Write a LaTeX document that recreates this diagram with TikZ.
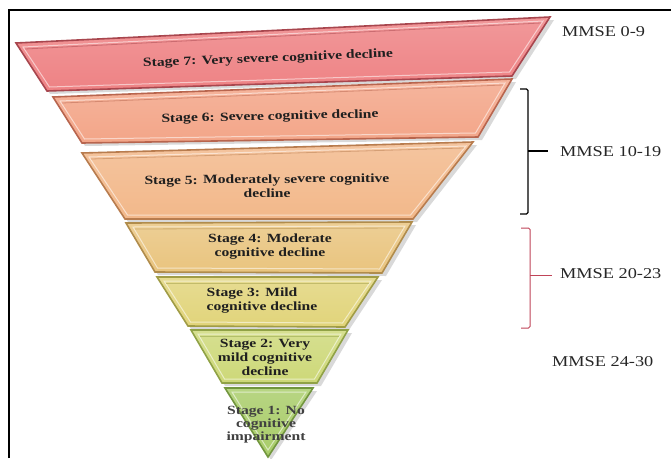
\documentclass[tikz,border=0pt]{standalone}
\usepackage{fontspec}
\setmainfont{Liberation Serif}
\newfontfamily\stagefont{Liberation Serif}[FakeStretch=1.25]
\newfontfamily\mmsefont{Liberation Serif}[FakeStretch=1.22]
\usetikzlibrary{calc}
\definecolor{f7}{HTML}{EE8284}\definecolor{b7}{HTML}{A8464E}
\definecolor{f6}{HTML}{F3A588}\definecolor{b6}{HTML}{B8654E}
\definecolor{f5}{HTML}{F2B88A}\definecolor{b5}{HTML}{B87C4E}
\definecolor{f4}{HTML}{E9C47E}\definecolor{b4}{HTML}{B08C4C}
\definecolor{f3}{HTML}{E1D47A}\definecolor{b3}{HTML}{A09C46}
\definecolor{f2}{HTML}{CDD878}\definecolor{b2}{HTML}{90A246}
\definecolor{f1}{HTML}{A8CC68}\definecolor{b1}{HTML}{72963E}
\definecolor{redbr}{HTML}{C04458}
\tikzset{
  stagetext/.style={font=\stagefont\bfseries\fontsize{12.5}{14}\selectfont, align=center, text=black!88, inner sep=0pt},
  mmsetext/.style={font=\mmsefont\fontsize{15}{18}\selectfont, anchor=west, inner sep=0pt, text=black!85},
  bandshadow/.style={fill=black, opacity=0.15},
  bracketline/.style={line width=1.3pt, rounded corners=1.5pt}
}
% #1 TL, #2 TR, #3 BR, #4 BL, #5 fill, #6 border
\newcommand\drawband[6]{%
  \fill[bandshadow] ($(#1)+(3,3)$) -- ($(#2)+(4,3)$) -- ($(#3)+(4,3)$) -- ($(#4)+(3,3)$) -- cycle;
  \draw[line width=1.6pt, draw=#6, top color=#5!82!white, bottom color=#5] (#1) -- (#2) -- (#3) -- (#4) -- cycle;
  \draw[line width=1pt, draw=white, opacity=0.55] ($(#1)+(7,4)$) -- ($(#2)+(-7,4)$) -- ($(#3)+(-2.5,-4)$) -- ($(#4)+(2.5,-4)$) -- cycle;
  \draw[line width=0.8pt, draw=#6, opacity=0.5] ($(#1)+(9,6)$) -- ($(#2)+(-9,6)$);
}
\begin{document}
\begin{tikzpicture}[x=1pt,y=-1pt]
\useasboundingbox (0,0) rectangle (671,458);
\fill[white] (0,0) rectangle (671,458);
% frame
\draw[line width=2pt] (9,458) -- (9,10) -- (671,10);
% bands
\drawband{16,43}{550,17}{512,76}{47,91}{f7}{b7}
\drawband{53,97}{512,79}{478,137}{82,143}{f6}{b6}
\drawband{82,153}{473,142}{413,219}{125,219}{f5}{b5}
\drawband{126,223}{412,222}{382,273}{155,272}{f4}{b4}
\drawband{157,277}{378,277}{345,327}{188,326}{f3}{b3}
\drawband{191,330}{348,330}{317,383}{222,383}{f2}{b2}
% stage 1 triangle
\fill[bandshadow] (228,391) -- (317,391) -- (271,460) -- cycle;
\draw[line width=1.6pt, draw=b1, top color=f1!82!white, bottom color=f1] (225,388) -- (313,388) -- (268,457) -- cycle;
\draw[line width=1pt, draw=white, opacity=0.55] (232,392) -- (306,392) -- (268,450) -- cycle;
% stage texts
\node[stagetext, rotate=2.2] (s7) at (268,59) {Stage 7: Very severe cognitive decline};
\node[stagetext, rotate=1.2] (s6) at (270,117) {Stage 6: Severe cognitive decline};
\node[stagetext, rotate=0.6] (s5) at (267,186) {Stage 5: Moderately severe cognitive\\decline};
\node[stagetext] (s4) at (270,247) {Stage 4: Moderate\\cognitive decline};
\node[stagetext, align=left] (s3) at (262,301) {Stage 3: Mild\\cognitive decline};
\node[stagetext] (s2) at (265,357) {Stage 2: Very\\mild cognitive\\decline};
\node[stagetext, text=black!75, font=\stagefont\bfseries\fontsize{12.5}{13}\selectfont] (s1) at (266,425) {Stage 1: No\\cognitive\\impairment};
% MMSE labels
\node[mmsetext] (m1) at (562,32) {MMSE 0-9};
\node[mmsetext] (m2) at (560,152) {MMSE 10-19};
\node[mmsetext] (m3) at (560,274) {MMSE 20-23};
\node[mmsetext] (m4) at (552,362) {MMSE 24-30};
% brackets
\coordinate (bk1) at (548,151);
\coordinate (bk2) at (552,275);
\draw[bracketline, black] (520,89) -- (528,89) -- (528,214) -- (520,214);
\draw[line width=1.3pt, black] (528,151) -- (bk1);
\draw[bracketline, redbr, line width=1pt] (521,228) -- (530,228) -- (530,328) -- (521,328);
\draw[line width=1pt, redbr] (530,275) -- (bk2);
\end{tikzpicture}
\end{document}
